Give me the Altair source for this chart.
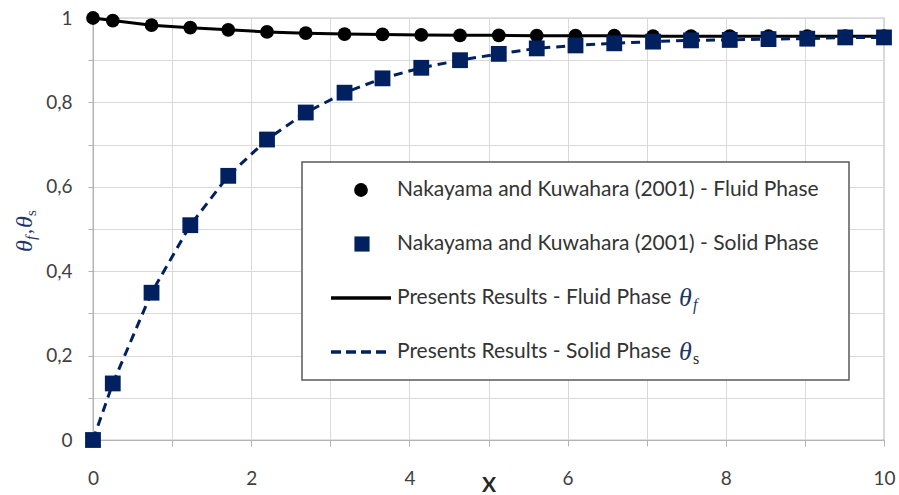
import altair as alt
import pandas as pd

# Axial position X
x_pos = [0, 0.25, 0.74, 1.23, 1.71, 2.2, 2.69, 3.18, 3.66, 4.15, 4.64,
         5.13, 5.61, 6.1, 6.59, 7.08, 7.56, 8.05, 8.54, 9.03, 9.51, 10]

# Nakayama and Kuwahara (2001) - fluid phase temperature
theta_f_ref = [1.0, 0.994, 0.983, 0.977, 0.972, 0.967, 0.964, 0.962, 0.961, 0.960, 0.959,
               0.959, 0.958, 0.958, 0.958, 0.957, 0.957, 0.957, 0.957, 0.957, 0.957, 0.957]

# Nakayama and Kuwahara (2001) - solid phase temperature
theta_s_ref = [0.0, 0.134, 0.349, 0.509, 0.626, 0.712, 0.776, 0.823, 0.857, 0.882, 0.900,
               0.915, 0.928, 0.935, 0.940, 0.944, 0.947, 0.948, 0.950, 0.951, 0.954, 0.954]

# Present results (curves)
theta_f_now = theta_f_ref
theta_s_now = theta_s_ref

x_ticks = [0, 1, 2, 3, 4, 5, 6, 7, 8, 9, 10]
y_ticks = [0, 0.1, 0.2, 0.3, 0.4, 0.5, 0.6, 0.7, 0.8, 0.9, 1.0]

legend_labels = [
    "Nakayama and Kuwahara (2001) - Fluid Phase",
    "Nakayama and Kuwahara (2001) - Solid Phase",
    "Presents Results - Fluid Phase",
    "Presents Results - Solid Phase",
]

NAVY = "#002060"
SANS = "Lato"
SERIF = "Liberation Serif"
TXT = "#333333"
THETA = "#1c3766"

df = pd.DataFrame({
    "x": x_pos,
    "tf_ref": theta_f_ref,
    "ts_ref": theta_s_ref,
    "tf_now": theta_f_now,
    "ts_now": theta_s_now,
})
one = pd.DataFrame({"k": [0]})

xs = alt.Scale(domain=[0, 10], nice=False, zero=False)
ys = alt.Scale(domain=[0, 1], nice=False)

x_axis = alt.Axis(
    values=x_ticks,
    labelExpr="datum.value % 2 == 0 ? format(datum.value, 'd') : ''",
    grid=True, gridColor="#d9d9d9", gridWidth=1,
    domainColor="#b3b3b3", tickColor="#b3b3b3", tickSize=6,
    labelFont=SANS, labelFontSize=19, labelColor="#404040", labelPadding=32,
    labelBaseline="middle", labelFlush=False,
    title="X", titleFont=SANS, titleFontSize=21, titleFontWeight="bold",
    titleColor="#262626", titleY=45, titleBaseline="middle",
)
y_axis = alt.Axis(
    values=y_ticks,
    labelExpr="round(datum.value * 10) % 2 == 0 ? replace(format(datum.value, '.1~f'), '.', ',') : ''",
    grid=True, gridColor="#d9d9d9", gridWidth=1,
    domainColor="#b3b3b3", tickColor="#b3b3b3", tickSize=5,
    labelFont=SANS, labelFontSize=19, labelColor="#404040", labelPadding=16,
    labelFlush=False, title=None,
)

base = alt.Chart(df)

fluid_line = base.mark_line(color="black", strokeWidth=3).encode(
    x=alt.X("x:Q", scale=xs, axis=x_axis),
    y=alt.Y("tf_now:Q", scale=ys, axis=y_axis),
)
fluid_pts = base.mark_point(shape="circle", filled=True, color="black", opacity=1, size=190).encode(
    x=alt.X("x:Q", scale=xs), y=alt.Y("tf_ref:Q", scale=ys)
)
solid_line = base.mark_line(color=NAVY, strokeWidth=3, strokeDash=[9, 6]).encode(
    x=alt.X("x:Q", scale=xs), y=alt.Y("ts_now:Q", scale=ys)
)
solid_pts = base.mark_point(shape="square", filled=True, color=NAVY, opacity=1, size=250).encode(
    x=alt.X("x:Q", scale=xs), y=alt.Y("ts_ref:Q", scale=ys)
)


def text_at(s, x, y, size, font=SANS, color=TXT, **kw):
    return alt.Chart(one).mark_text(
        text=s, font=font, fontSize=size, color=color, **kw
    ).encode(x=alt.value(x), y=alt.value(y))


# Legend box (pixel layout inside the plot area)
box = alt.Chart(one).mark_rect(fill="white", stroke="#595959", strokeWidth=1.5).encode(
    x=alt.value(209), x2=alt.value(756), y=alt.value(144), y2=alt.value(362)
)
row_y = [172, 226, 280, 334]
lg_circle = alt.Chart(one).mark_point(shape="circle", filled=True, color="black", opacity=1, size=190).encode(
    x=alt.value(268), y=alt.value(row_y[0])
)
lg_square = alt.Chart(one).mark_point(shape="square", filled=True, color=NAVY, opacity=1, size=230).encode(
    x=alt.value(269), y=alt.value(row_y[1])
)
lg_line = alt.Chart(one).mark_rule(color="black", strokeWidth=3.5).encode(
    x=alt.value(238), x2=alt.value(298), y=alt.value(row_y[2])
)
lg_dash = alt.Chart(one).mark_rule(color=NAVY, strokeWidth=3.5, strokeDash=[10, 5]).encode(
    x=alt.value(238), x2=alt.value(298), y=alt.value(row_y[3])
)
lg_texts = [
    text_at(lab, 304, yy, 21, align="left", baseline="middle")
    for lab, yy in zip(legend_labels, row_y)
]
theta_x = 586
lg_math = [
    text_at("θ", theta_x, row_y[2] + 8, 26, font=SERIF, color=THETA, fontStyle="italic",
            align="left", baseline="alphabetic"),
    text_at("f", theta_x + 14, row_y[2] + 12, 16, font=SERIF, color=THETA, fontStyle="italic",
            align="left", baseline="alphabetic"),
    text_at("θ", theta_x, row_y[3] + 8, 26, font=SERIF, color=THETA, fontStyle="italic",
            align="left", baseline="alphabetic"),
    text_at("s", theta_x + 14, row_y[3] + 12, 16, font=SERIF, color="#262626",
            align="left", baseline="alphabetic"),
]

# Y axis title: θf,θs rotated
yt = [
    text_at("θ", -68, 234, 24, font=SERIF, color=THETA, fontStyle="italic", angle=270, align="left"),
    text_at("f", -62, 222, 15, font=SERIF, color=THETA, fontStyle="italic", angle=270, align="left"),
    text_at(",", -68, 216, 20, font=SERIF, color=THETA, angle=270, align="left"),
    text_at("θ", -68, 210, 24, font=SERIF, color=THETA, fontStyle="italic", angle=270, align="left"),
    text_at("s", -62, 198, 15, font=SERIF, color=THETA, angle=270, align="left"),
]

chart = alt.layer(
    fluid_line, fluid_pts, solid_line, solid_pts,
    box, lg_circle, lg_square, lg_line, lg_dash, *lg_texts, *lg_math, *yt,
).properties(
    width=791, height=422,
    padding={"left": 93, "top": 18, "right": 15, "bottom": 55},
    autosize=alt.AutoSizeParams(type="none"),
    background="white",
).configure_view(stroke="#868686", strokeWidth=1.2)

chart.save("out.html", embed_options={"renderer": "svg", "actions": False})
